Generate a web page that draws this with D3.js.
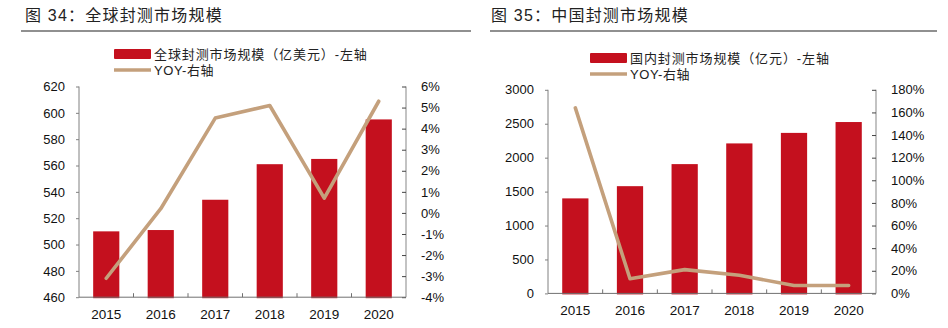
<!DOCTYPE html>
<html>
<head>
<meta charset="utf-8">
<script src="https://cdn.jsdelivr.net/npm/d3@7/dist/d3.min.js"></script>
<style>
  html, body { margin: 0; padding: 0; background: #fff; }
  svg { display: block; }
  text { font-family: "Liberation Sans", Arial, "Noto Sans CJK SC", sans-serif; fill: #111; }
  .cjk { font-family: "Liberation Sans", "Noto Sans CJK SC", sans-serif; }
</style>
</head>
<body>
<svg id="chart" width="948" height="328"></svg>
<script>
// Years shared by both panels
const years = ["2015", "2016", "2017", "2018", "2019", "2020"];

// Global packaging & testing market (100M USD) and YoY growth (%)
const globalSize = [510, 511, 534, 561, 565, 595];
const globalYoy = [-3.1, 0.2, 4.5, 5.1, 0.7, 5.3];
const globalLeftTicks = [460, 480, 500, 520, 540, 560, 580, 600, 620];
const globalRightTicks = [-4, -3, -2, -1, 0, 1, 2, 3, 4, 5, 6];

// China packaging & testing market (100M CNY) and YoY growth (%)
const chinaSize = [1400, 1580, 1905, 2210, 2365, 2525];
const chinaYoy = [164, 13, 21, 16, 7, 7];
const chinaLeftTicks = [0, 500, 1000, 1500, 2000, 2500, 3000];
const chinaRightTicks = [0, 20, 40, 60, 80, 100, 120, 140, 160, 180];

const BAR = "#c4101e";
const LINE = "#c4a07c";

const svg = d3.select("#chart");

function panel(cfg) {
  const g = svg.append("g");

  // title + rule
  g.append("text").attr("class", "cjk")
    .attr("x", cfg.titleX).attr("y", 21)
    .style("font-size", "16px").style("letter-spacing", "1.2px").style("fill", "#222")
    .text(cfg.title);
  g.append("line")
    .attr("x1", cfg.ruleX0).attr("x2", cfg.ruleX1)
    .attr("y1", 31).attr("y2", 31)
    .attr("stroke", "#222").attr("stroke-width", 1.2);

  const x = d3.scaleBand().domain(years)
    .range([cfg.x0, cfg.x1]).paddingInner(0.52).paddingOuter(0.26);
  const yL = d3.scaleLinear().domain(cfg.leftDomain).range([cfg.yBot, cfg.yTop]);
  const yR = d3.scaleLinear().domain(cfg.rightDomain).range([cfg.yBot, cfg.yTop]);

  // bars
  g.append("g").selectAll("rect").data(cfg.size).join("rect")
    .attr("x", (d, i) => x(years[i]))
    .attr("width", x.bandwidth())
    .attr("y", d => yL(d))
    .attr("height", d => yL(cfg.leftDomain[0]) - yL(d) + 1)
    .attr("fill", BAR);

  // left axis
  const axL = g.append("g").attr("transform", `translate(${cfg.x0},0)`)
    .call(d3.axisLeft(yL).tickValues(cfg.leftTicks).tickSize(3).tickPadding(11).tickFormat(d3.format("d")));
  axL.select(".domain").attr("stroke", "#808080").attr("d", `M0,${cfg.yTop}V${cfg.yBot}`);
  axL.selectAll(".tick line").attr("stroke", "#808080");
  axL.selectAll(".tick text").style("font-size", "13px").style("fill", "#111")
    .attr("font-family", "Liberation Sans, Arial, sans-serif");

  // right axis: ticks pointing into the plot, labels left-aligned
  const axR = g.append("g").attr("transform", `translate(${cfg.x1},0)`)
    .call(d3.axisRight(yR).tickValues(cfg.rightTicks).tickSize(-4).tickPadding(15).tickFormat(d => d + "%"));
  axR.select(".domain").attr("stroke", "#b4b4b4").attr("stroke-width", 1.6)
    .attr("d", `M0,${cfg.yTop}V${cfg.yBot}`);
  axR.selectAll(".tick line").attr("stroke", "#444");
  axR.selectAll(".tick text").style("font-size", "13px").style("fill", "#111")
    .attr("font-family", "Liberation Sans, Arial, sans-serif");

  // bottom axis with ticks at category boundaries
  const base = cfg.yBot;
  g.append("line").attr("x1", cfg.x0).attr("x2", cfg.x1).attr("y1", base).attr("y2", base)
    .attr("stroke", "#707070");
  const step = x.step();
  g.append("g").selectAll("line").data(years.slice(1)).join("line")
    .attr("x1", d => x(d) - step * 0.26).attr("x2", d => x(d) - step * 0.26)
    .attr("y1", base).attr("y2", base - 4).attr("stroke", "#707070");
  g.append("g").selectAll("text").data(years).join("text")
    .attr("x", d => x(d) + x.bandwidth() / 2)
    .attr("y", base + 21.5)
    .attr("text-anchor", "middle")
    .style("font-size", "13.5px")
    .text(d => d);

  // YoY line
  const line = d3.line()
    .x((d, i) => x(years[i]) + x.bandwidth() / 2)
    .y(d => yR(d));
  g.append("path").datum(cfg.yoy)
    .attr("d", line)
    .attr("fill", "none").attr("stroke", LINE)
    .attr("stroke-width", 3.6).attr("stroke-linejoin", "round").attr("stroke-linecap", "round");

  // legend
  const lx = cfg.legendX, ly = cfg.legendY;
  g.append("rect").attr("x", lx).attr("y", ly).attr("width", 37).attr("height", 10)
    .attr("fill", BAR).attr("rx", 1);
  g.append("text").attr("class", "cjk").attr("x", lx + 40).attr("y", ly + 9.5)
    .style("font-size", "13px").style("letter-spacing", "0.9px").style("fill", "#222")
    .text(cfg.legendBar);
  g.append("line").attr("x1", lx).attr("x2", lx + 37)
    .attr("y1", ly + 21).attr("y2", ly + 21)
    .attr("stroke", LINE).attr("stroke-width", 3.6);
  g.append("text").attr("class", "cjk").attr("x", lx + 40).attr("y", ly + 26)
    .style("font-size", "13px").style("letter-spacing", "0.6px").style("fill", "#222")
    .text("YOY-右轴");
}

panel({
  title: "图 34：全球封测市场规模",
  titleX: 25, ruleX0: 21, ruleX1: 471,
  x0: 79, x1: 406, yTop: 86.5, yBot: 297.2,
  leftDomain: [460, 620], rightDomain: [-4, 6],
  leftTicks: globalLeftTicks, rightTicks: globalRightTicks,
  size: globalSize, yoy: globalYoy,
  legendX: 114, legendY: 49,
  legendBar: "全球封测市场规模（亿美元）-左轴"
});

panel({
  title: "图 35：中国封测市场规模",
  titleX: 491, ruleX0: 490, ruleX1: 937,
  x0: 548, x1: 876, yTop: 89.8, yBot: 293.4,
  leftDomain: [0, 3000], rightDomain: [0, 180],
  leftTicks: chinaLeftTicks, rightTicks: chinaRightTicks,
  size: chinaSize, yoy: chinaYoy,
  legendX: 590, legendY: 53,
  legendBar: "国内封测市场规模（亿元）-左轴"
});
</script>
</body>
</html>
